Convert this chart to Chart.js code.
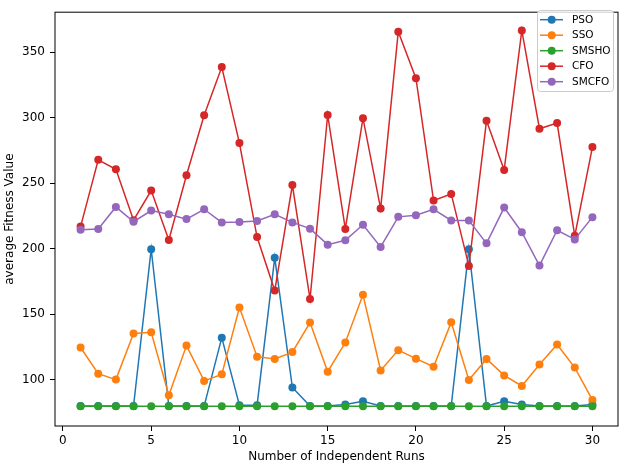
<!DOCTYPE html>
<html>
<head>
<meta charset="utf-8">
<script src="https://cdn.jsdelivr.net/npm/chart.js@4"></script>
<style>
  html, body { margin: 0; padding: 0; background: #fff; }
  #wrap { width: 624px; height: 468px; }
</style>
</head>
<body>
<div id="wrap"><canvas id="chart" width="624" height="468"></canvas></div>
<script>
const runs = [1, 2, 3, 4, 5, 6, 7, 8, 9, 10, 11, 12, 13, 14, 15, 16, 17, 18, 19, 20, 21, 22, 23, 24, 25, 26, 27, 28, 29, 30];

const pso   = [79.8, 79.8, 79.8, 79.8, 199.5, 79.8, 79.8, 79.8, 132, 80.5, 80.5, 193, 94, 79.8, 79.8, 81, 83.5, 79.8, 79.8, 79.8, 79.8, 79.8, 199.5, 79.8, 83.5, 81, 79.8, 79.8, 79.8, 81];
const sso   = [124.5, 104.5, 100, 135.2, 136.2, 88, 126, 99, 104, 155, 117.5, 115.8, 121, 143.5, 106, 128.3, 164.7, 107, 122.5, 116, 109.8, 143.7, 99.8, 115.8, 103.2, 95.2, 111.5, 126.8, 109.2, 84.5];
const smsho = [79.7, 79.7, 79.7, 79.7, 79.7, 79.7, 79.7, 79.7, 79.7, 79.7, 79.7, 79.7, 79.7, 79.7, 79.7, 79.7, 79.7, 79.7, 79.7, 79.7, 79.7, 79.7, 79.7, 79.7, 79.7, 79.7, 79.7, 79.7, 79.7, 79.7];
const cfo   = [216.8, 267.7, 260.5, 221.7, 244.3, 206.6, 256, 301.8, 338.5, 280.5, 208.8, 168, 248.5, 161.5, 302, 215, 299.5, 230.5, 365.5, 330, 236.7, 241.7, 186.8, 297.5, 260, 366.5, 291.5, 295.8, 209.7, 277.5];
const smcfo = [214.3, 215, 231.8, 220.5, 229, 226.2, 222.5, 230, 220, 220.2, 221, 226.2, 220, 215.2, 203, 206.3, 218.2, 201.3, 224.2, 225.5, 230, 221.5, 221.5, 204, 231.3, 212.5, 187, 214, 207, 224];

const xTicks = [0, 5, 10, 15, 20, 25, 30];
const yTicks = [100, 150, 200, 250, 300, 350];

const FONT = "'DejaVu Sans', sans-serif";

function pts(vals) {
  return vals.map((v, i) => ({ x: runs[i], y: v }));
}

function series(label, vals, color, order) {
  return {
    label: label,
    data: pts(vals),
    borderColor: color,
    backgroundColor: color,
    borderWidth: 1.5,
    pointRadius: 4,
    pointBorderWidth: 0,
    pointBackgroundColor: color,
    tension: 0,
    order: order
  };
}

// full box round the plot, like matplotlib spines
const frame = {
  id: "frame",
  afterDraw(chart) {
    const { ctx, chartArea: a } = chart;
    ctx.save();
    ctx.strokeStyle = "#000";
    ctx.lineWidth = 1;
    ctx.strokeRect(a.left, a.top, a.right - a.left, a.bottom - a.top);
    ctx.restore();
  }
};

// legend box in the upper right corner
const boxLegend = {
  id: "boxLegend",
  afterDraw(chart) {
    const ctx = chart.ctx;
    const x0 = 537, y0 = 10, w = 76, h = 81;
    ctx.save();
    ctx.fillStyle = "rgba(255,255,255,0.8)";
    ctx.strokeStyle = "#cccccc";
    ctx.lineWidth = 1;
    ctx.beginPath();
    ctx.roundRect(x0 + 0.5, y0 + 0.5, w, h, 3);
    ctx.fill();
    ctx.stroke();
    ctx.font = "10.5px " + FONT;
    ctx.textBaseline = "middle";
    chart.data.datasets.forEach((ds, i) => {
      const y = 19.7 + i * 15.5;
      ctx.strokeStyle = ds.borderColor;
      ctx.lineWidth = 1.5;
      ctx.beginPath();
      ctx.moveTo(540, y);
      ctx.lineTo(563, y);
      ctx.stroke();
      ctx.fillStyle = ds.borderColor;
      ctx.beginPath();
      ctx.arc(551.7, y, 4, 0, Math.PI * 2);
      ctx.fill();
      ctx.fillStyle = "#000";
      ctx.fillText(ds.label, 572, y + 0.5);
    });
    ctx.restore();
  }
};

const ctx = document.getElementById("chart").getContext("2d");

new Chart(ctx, {
  type: "line",
  data: {
    datasets: [
      series("PSO", pso, "#1f77b4", 5),
      series("SSO", sso, "#ff7f0e", 4),
      series("SMSHO", smsho, "#2ca02c", 3),
      series("CFO", cfo, "#d62728", 2),
      series("SMCFO", smcfo, "#9467bd", 1)
    ]
  },
  options: {
    responsive: false,
    animation: false,
    layout: { padding: { left: 0, right: 6, top: 5, bottom: 0 } },
    plugins: {
      legend: { display: false },
      tooltip: { enabled: false }
    },
    scales: {
      x: {
        type: "linear",
        min: -0.45,
        max: 31.45,
        afterBuildTicks: s => { s.ticks = xTicks.map(v => ({ value: v })); },
        afterFit: s => { s.height = 42; },
        grid: { drawOnChartArea: false, drawTicks: true, tickLength: 5, color: "#000" },
        border: { display: false },
        ticks: { color: "#000", font: { family: FONT, size: 12 }, padding: 3, maxRotation: 0 },
        title: {
          display: true,
          text: "Number of Independent Runs",
          color: "#000",
          font: { family: FONT, size: 12 },
          padding: { top: 0, bottom: 4 }
        }
      },
      y: {
        type: "linear",
        min: 64.6,
        max: 380.4,
        afterBuildTicks: s => { s.ticks = yTicks.map(v => ({ value: v })); },
        afterFit: s => { s.width = 55; },
        grid: { drawOnChartArea: false, drawTicks: true, tickLength: 5, color: "#000" },
        border: { display: false },
        ticks: { color: "#000", font: { family: FONT, size: 12 }, padding: 5 },
        title: {
          display: true,
          text: "average Fitness Value",
          color: "#000",
          font: { family: FONT, size: 12 },
          padding: { top: 3, bottom: 0 }
        }
      }
    }
  },
  plugins: [frame, boxLegend]
});
</script>
</body>
</html>
